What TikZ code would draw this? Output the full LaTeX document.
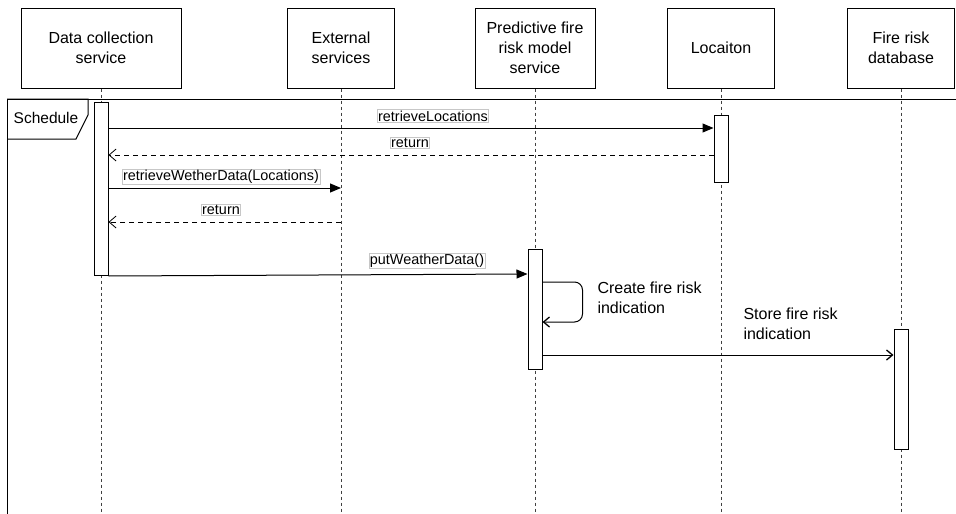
\documentclass[tikz,border=0pt]{standalone}
\usepackage{fontspec}
\setmainfont{Liberation Sans}
\usetikzlibrary{arrows.meta,positioning,calc}

\begin{document}
\begin{tikzpicture}[x=1pt,y=-1pt,line width=1pt,
  font=\fontsize{16}{20}\selectfont,
  hdr/.style={draw,minimum height=80pt,align=center,inner sep=2pt},
  act/.style={draw,fill=white,minimum width=14pt,inner sep=0pt,anchor=north},
  life/.style={black!75,line width=0.9pt,dash pattern=on 3pt off 3pt},
  lbl/.style={draw=black!22,fill=white,inner sep=1pt,line width=0.8pt,
              font=\fontsize{14.4}{16}\selectfont},
  txt/.style={align=left,anchor=north west,inner sep=0pt},
  msg/.style={-{Triangle[length=11pt,width=9pt]}},
  ret/.style={-{Straight Barb[length=7pt,width=12pt,line width=0.8pt]},
              dash pattern=on 5pt off 4pt},
  own/.style={-{Straight Barb[length=6pt,width=10pt,line width=1.3pt]}},
]
\useasboundingbox (0,0) rectangle (956,514);
\coordinate (bot) at (0,514);

% lifeline headers
\node[hdr,minimum width=160pt] (dcs) at (101,48) {Data collection\\service};
\node[hdr,minimum width=107pt] (ext) at (341,48) {External\\services};
\node[hdr,minimum width=120pt] (pfm) at (535,48) {Predictive fire\\risk model\\service};
\node[hdr,minimum width=107pt] (loc) at (721,48) {Locaiton};
\node[hdr,minimum width=107pt] (frd) at (901,48) {Fire risk\\database};

\foreach \n in {dcs,ext,pfm,loc,frd}
  \draw[life] (\n.south) -- (\n.south |- bot);

% schedule frame
\draw (956,99) -- (7,99) -- (7,514);
\draw (7,99) -- (88,99) -- (88,115) -- (76,139) -- (7,139);
\node[font=\fontsize{15.5}{18}\selectfont] (sch) at (46,118) {Schedule};

% activation bars
\node[act,minimum height=173pt] (a1) at (dcs.south |- 0,102) {};
\node[act,minimum height=67pt]  (a4) at (loc.south |- 0,115) {};
\node[act,minimum height=120pt] (a3) at (pfm.south |- 0,249) {};
\node[act,minimum height=120pt] (a5) at (frd.south |- 0,329) {};

% message rows
\coordinate (y1) at (0,128);
\coordinate (y2) at (0,155);
\coordinate (y3) at (0,188);
\coordinate (y4) at (0,222);
\coordinate (y5) at (0,274);
\coordinate (y6) at (0,282);
\coordinate (y7) at (0,322);
\coordinate (y8) at (0,355);

\draw[msg] (a1.east |- y1) -- (a4.west |- y1);
\node[lbl] (m1) at (433,116) {retrieveLocations};
\draw[ret] (a4.west |- y2) -- (a1.east |- y2);
\node[lbl] (m2) at (410,143) {return};
\draw[msg] (a1.east |- y3) -- (ext.south |- y3);
\node[lbl] (m3) at (221,177) {retrieveWetherData(Locations)};
\draw[ret] (ext.south |- y4) -- (a1.east |- y4);
\node[lbl] (m4) at (221,210) {return};
\draw[msg] (a1.south east) -- (a3.west |- y5);
\node[lbl] (m5) at (427,261) {putWeatherData()};

% self call
\draw[own,rounded corners=8pt] (a3.east |- y6) -- ++(40,0) |- (a3.east |- y7);
\node[txt] (m6) at (597,281) {Create fire risk\\indication};
\draw[own] (a3.east |- y8) -- (a5.west |- y8);
\node[txt] (m7) at (743,307) {Store fire risk\\indication};
\end{tikzpicture}
\end{document}
